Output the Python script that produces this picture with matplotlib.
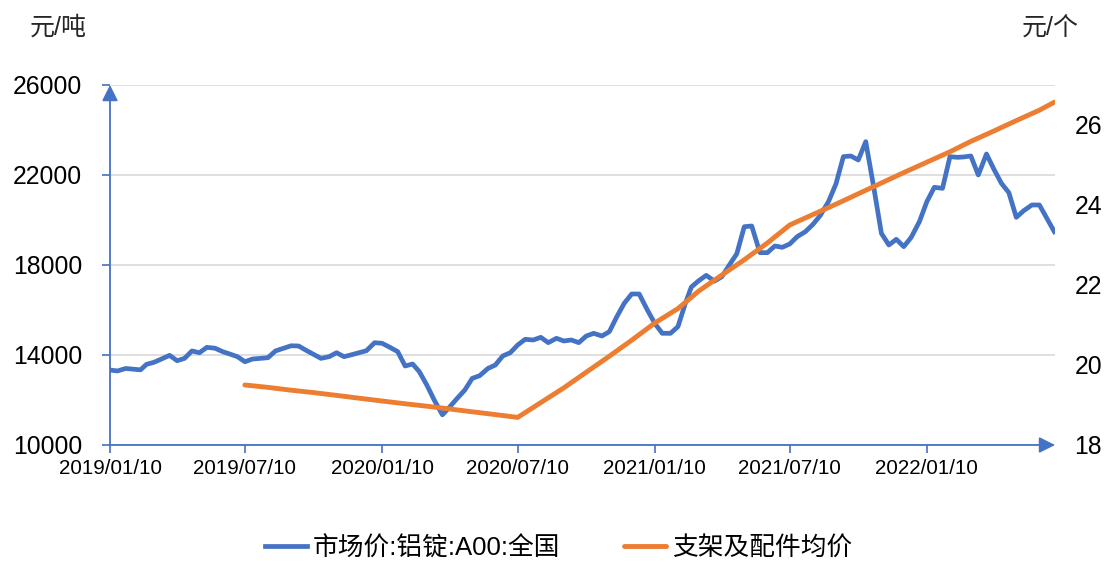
import numpy as np
import pandas as pd
import matplotlib
matplotlib.use("Agg")
import matplotlib.pyplot as plt
import matplotlib.dates as mdates

plt.rcParams['font.family'] = ['Liberation Sans', 'Noto Sans CJK SC', 'DejaVu Sans']

# 市场价:铝锭:A00:全国 (元/吨), 每旬 2019/01 - 2022/06
alu_price = [
    13330, 13290, 13400, 13370, 13340, 13585, 13675, 13820, 13985,   # 2019 Q1
    13745, 13850, 14180, 14100, 14340, 14300, 14150, 14040, 13925,   # 2019 Q2
    13700, 13820, 13850, 13880, 14180, 14300, 14410, 14400, 14210,   # 2019 Q3
    14030, 13850, 13925, 14100, 13925, 14010, 14100, 14190, 14545,   # 2019 Q4
    14520, 14350, 14150, 13510, 13600, 13260, 12670, 12000, 11340,   # 2020 Q1
    11700, 12080, 12440, 12960, 13080, 13400, 13555, 13956, 14100,   # 2020 Q2
    14444, 14696, 14667, 14785, 14548, 14741, 14622, 14667, 14548,   # 2020 Q3
    14844, 14963, 14844, 15037, 15700, 16300, 16711, 16711, 16000,   # 2020 Q4
    15400, 14963, 14963, 15259, 16300, 17020, 17303, 17540, 17280,   # 2021 Q1
    17481, 18000, 18500, 19700, 19733, 18548, 18548, 18844, 18785,   # 2021 Q2
    18933, 19259, 19480, 19800, 20200, 20815, 21600, 22815, 22844,   # 2021 Q3
    22667, 23481, 21400, 19407, 18889, 19141, 18815, 19230, 19926,   # 2021 Q4
    20815, 21452, 21407, 22815, 22785, 22800, 22844, 22000, 22933,   # 2022 Q1
    22252, 21630, 21215, 20118, 20415, 20667, 20667, 20074, 19481,   # 2022 Q2
]
months = pd.date_range("2019-01-01", "2022-06-01", freq="MS")
alu_dates = []
for m in months:
    alu_dates += [m + pd.Timedelta(days=9), m + pd.Timedelta(days=19), m + pd.offsets.MonthEnd(0)]

# 支架及配件均价 (元/个), 月度
bracket_price = [
    19.50, 19.44, 19.37, 19.31, 19.24, 19.17, 19.10, 19.03, 18.97, 18.90, 18.83, 18.76, 18.69,
    19.06, 19.43, 19.82, 20.22, 20.62, 21.05, 21.41, 21.85, 22.25, 22.63, 23.05, 23.50,
    23.76, 24.02, 24.28, 24.55, 24.81, 25.07, 25.33, 25.59, 25.85, 26.11, 26.37, 26.57,
]
bracket_dates = list(pd.date_range("2019-07-10", periods=36, freq=pd.DateOffset(months=1)))
bracket_dates.append(pd.Timestamp("2022-06-30"))

xtick_labels = ["2019/01/10", "2019/07/10", "2020/01/10", "2020/07/10",
                "2021/01/10", "2021/07/10", "2022/01/10"]
left_ticks = [10000, 14000, 18000, 22000, 26000]
right_ticks = [18, 20, 22, 24, 26]

blue = "#4472C4"
orange = "#ED7D31"

fig = plt.figure(figsize=(11.1, 5.62), dpi=100)
ax = fig.add_axes([0.0991, 0.2082, 0.8514, 0.6406])
ax2 = ax.twinx()

l1, = ax.plot(alu_dates, alu_price, color=blue, lw=3.4, solid_joinstyle="round",
              label="市场价:铝锭:A00:全国", zorder=3)
l2, = ax2.plot(bracket_dates, bracket_price, color=orange, lw=3.5, solid_capstyle="round",
               label="支架及配件均价", zorder=3)

xt = pd.to_datetime(xtick_labels, format="%Y/%m/%d")
ax.set_xlim(pd.Timestamp("2019-01-10"), pd.Timestamp("2022-07-01"))
ax.set_xticks(xt)
ax.set_xticklabels(xtick_labels, fontsize=14.8)
ax.set_ylim(10000, 26000)
ax.set_yticks(left_ticks)
ax.set_yticklabels([str(v) for v in left_ticks], fontsize=17.8)
ax2.set_ylim(18, 27)
ax2.set_yticks(right_ticks)
ax2.set_yticklabels([str(v) for v in right_ticks], fontsize=17.8)

ax.grid(axis="y", color="#D9D9D9", lw=1.2)
ax.set_axisbelow(True)

for a in (ax, ax2):
    for s in a.spines.values():
        s.set_visible(False)
ax.tick_params(axis="x", direction="out", length=6, width=1.2, color=blue, pad=4)
ax.tick_params(axis="y", direction="out", length=6, width=1.2, color=blue, pad=14)
ax2.tick_params(axis="y", length=0, pad=14)

# 坐标轴箭头
ax.annotate("", xy=(0, 1), xytext=(0, 0), xycoords="axes fraction",
            arrowprops=dict(arrowstyle="-|>", color=blue, lw=1.3, mutation_scale=24,
                            shrinkA=0, shrinkB=0), zorder=4)
ax.annotate("", xy=(1, 0), xytext=(0, 0), xycoords="axes fraction",
            arrowprops=dict(arrowstyle="-|>", color=blue, lw=1.3, mutation_scale=24,
                            shrinkA=0, shrinkB=0), zorder=4)

fig.text(30 / 1110, 1 - 28 / 562, "元/吨", fontsize=18, va="center", color="#262626")
fig.text(1022 / 1110, 1 - 28 / 562, "元/个", fontsize=18, va="center", color="#262626")

fig.legend(handles=[l1, l2], loc="center", bbox_to_anchor=(0.503, 1 - 548 / 562), ncol=2,
           frameon=False, fontsize=18.5, handlelength=1.65, handletextpad=0.2,
           columnspacing=2.5)

fig.savefig("out.png", dpi=100)
